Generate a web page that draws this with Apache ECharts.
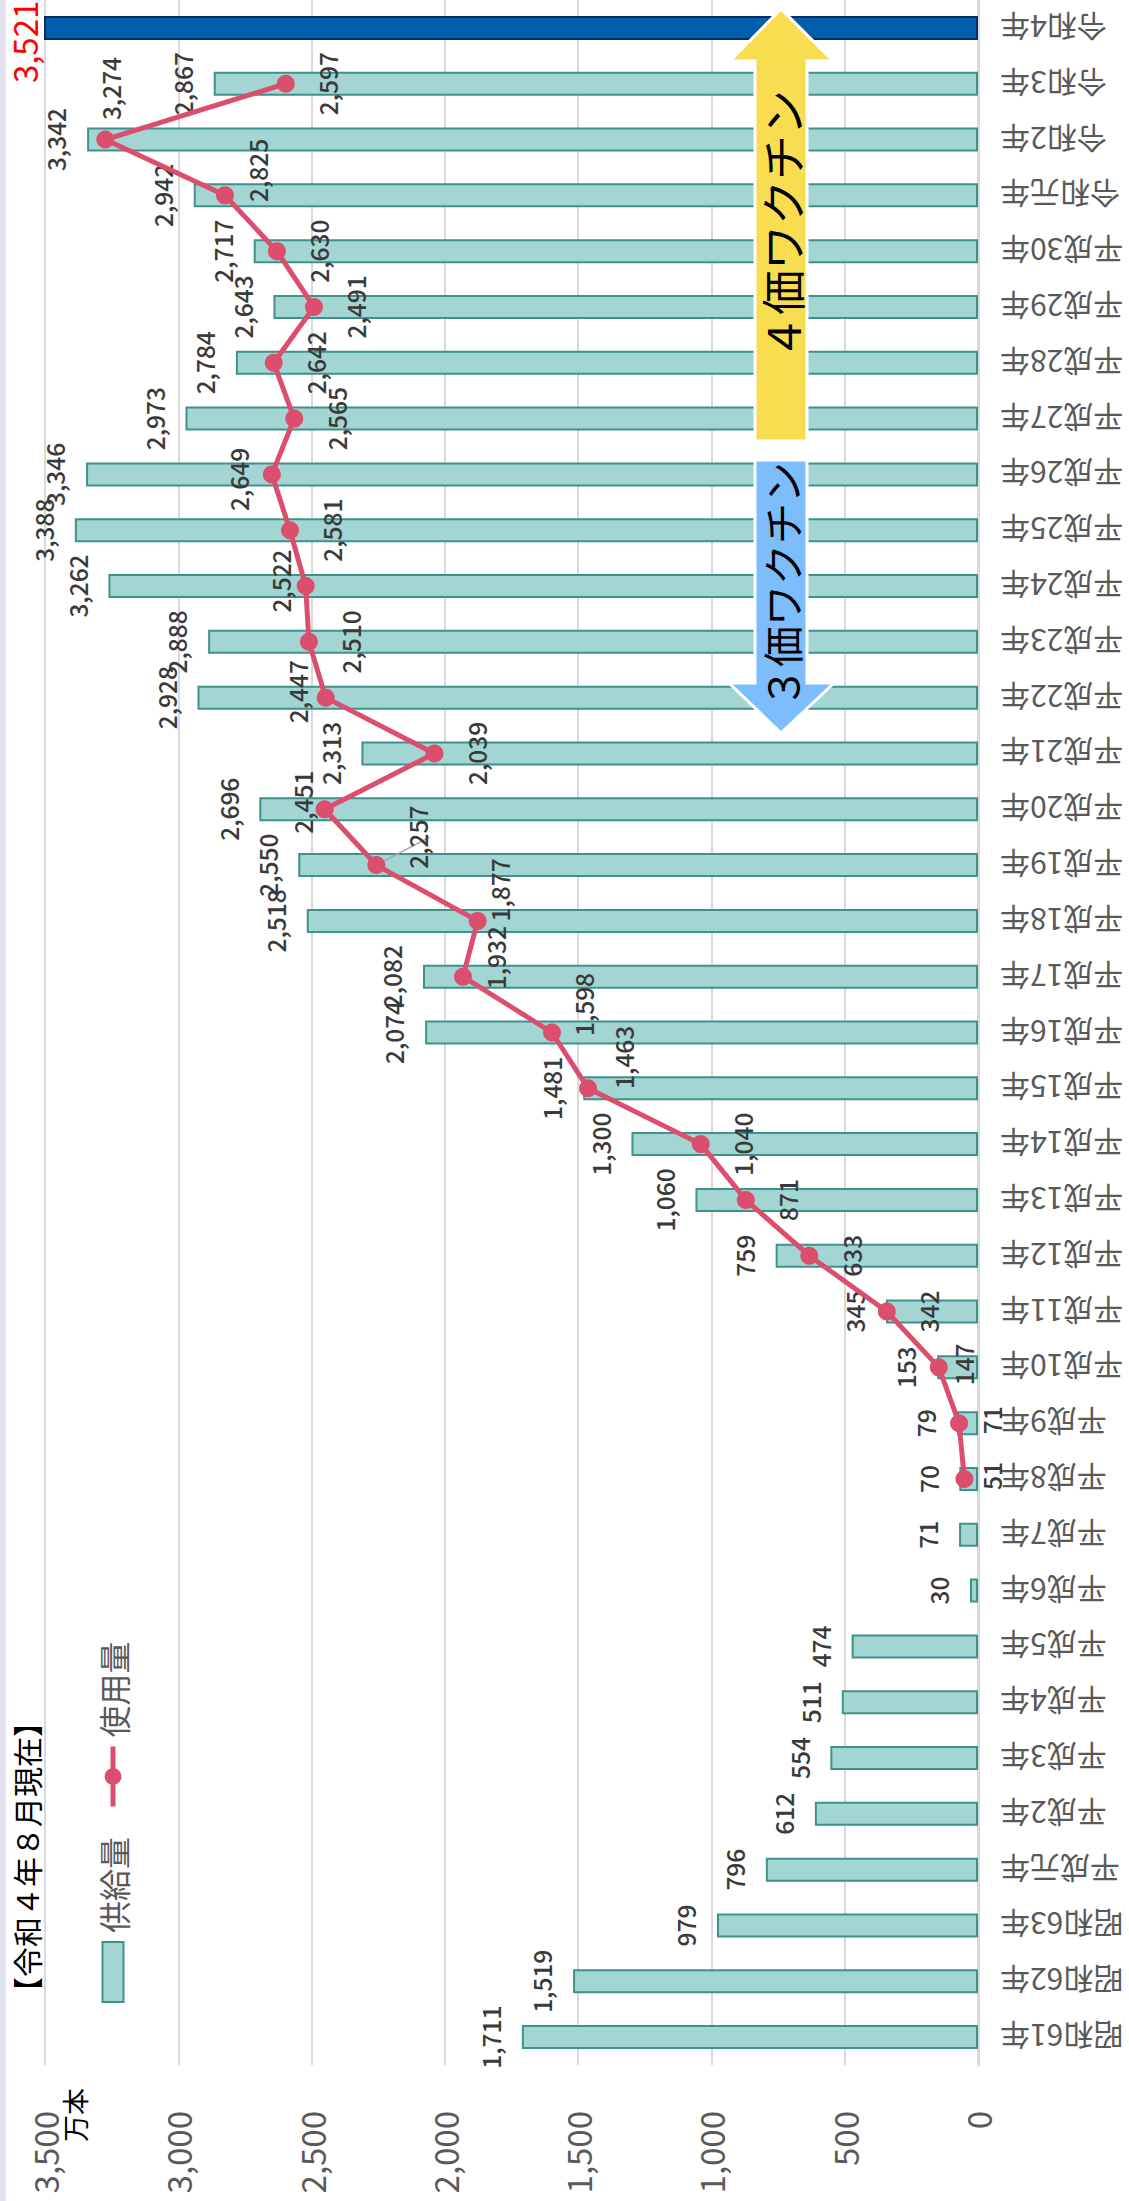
<!DOCTYPE html>
<html>
<head>
<meta charset="utf-8">
<script src="https://cdn.jsdelivr.net/npm/echarts@6/dist/echarts.min.js"></script>
<style>
html,body{margin:0;padding:0;background:#fff;overflow:hidden;width:1129px;height:2201px;}
#chart{position:absolute;left:0;top:0;width:2201px;height:1129px;transform-origin:0 0;transform:translate(0,2201px) rotate(-90deg);}
</style>
</head>
<body>
<div id="chart"></div>
<script>
// ---- data ----
const categories = ['昭和61年','昭和62年','昭和63年','平成元年','平成2年','平成3年','平成4年','平成5年','平成6年','平成7年','平成8年','平成9年','平成10年','平成11年','平成12年','平成13年','平成14年','平成15年','平成16年','平成17年','平成18年','平成19年','平成20年','平成21年','平成22年','平成23年','平成24年','平成25年','平成26年','平成27年','平成28年','平成29年','平成30年','令和元年','令和2年','令和3年','令和4年'];
const supply = [1711,1519,979,796,612,554,511,474,30,71,70,79,153,345,759,1060,1300,1481,2074,2082,2518,2550,2696,2313,2928,2888,3262,3388,3346,2973,2784,2643,2717,2942,3342,2867,3521];
const usage = [null,null,null,null,null,null,null,null,null,null,51,71,147,342,633,871,1040,1463,1598,1932,1877,2257,2451,2039,2447,2510,2522,2581,2649,2565,2642,2491,2630,2825,3274,2597,null];
const valueMin = 0, valueMax = 3500, valueStep = 500;
const highlightCategory = '令和4年';

// ---- label placement (style, not data) ----
const usageLabelOffsets = [null,null,null,null,null,null,null,null,null,null,
  [3,27],[3,32],[3,25],[0,42],[0,42],[0,42],[0,42],[31,35],[28,31],[19,33],[31,22],[28,41],[7,-22],[0,42],[6,-28],[0,42],[5,-25],[0,42],[-5,-33],[0,42],[0,42],[0,42],[0,42],[25,33],[51,5],[0,42],null];
const leaderLineCategory = '平成19年';

const FONT = '"Noto Sans CJK JP","Noto Sans",sans-serif';
const fmt = v => Number(v).toLocaleString('en-US');

const barData = supply.map((v, i) => categories[i] === highlightCategory ? {
  value: v,
  itemStyle: {color: '#005eac', borderColor: '#0b2c5c', borderWidth: 2},
  label: {color: '#ff0000', fontSize: 33, fontWeight: 'normal', distance: 4, offset: [-14, 0]}
} : v);

const lineData = usage.map((v, i) => v == null ? null : Object.assign({
  value: v,
  label: {offset: usageLabelOffsets[i]}
}, categories[i] === leaderLineCategory ? {labelLine: {show: true, lineStyle: {color: '#a6a6a6', width: 1.5}}} : {}));

const chart = echarts.init(document.getElementById('chart'), null, {renderer: 'svg', width: 2201, height: 1129});
chart.setOption({
  animation: false,
  backgroundColor: '#ffffff',
  textStyle: {fontFamily: FONT},
  title: {
    text: '【令和４年８月現在】',
    left: 194, top: 11, padding: 0,
    textStyle: {fontSize: 30, fontWeight: 'normal', color: '#000000', fontFamily: FONT}
  },
  legend: {
    left: 198, top: 97, padding: 0,
    itemWidth: 60, itemHeight: 21, itemGap: 28,
    textStyle: {fontSize: 32, color: '#595959', fontFamily: FONT, padding: [0, 0, 0, 4]},
    data: [
      {name: '供給量', icon: 'rect'},
      {name: '使用量', lineStyle: {width: 5, color: '#dc4e6d'}}
    ]
  },
  grid: {left: 136, right: 0, top: 45, bottom: 151, containLabel: false},
  xAxis: {
    type: 'category',
    data: categories,
    axisTick: {show: false},
    axisLine: {show: true, lineStyle: {color: '#d9d9d9', width: 3}},
    axisLabel: {interval: 0, rotate: 90, margin: 22, fontSize: 30, color: '#595959', fontFamily: FONT}
  },
  yAxis: {
    type: 'value',
    min: valueMin, max: valueMax, interval: valueStep,
    axisLine: {show: false},
    axisTick: {show: false},
    splitLine: {lineStyle: {color: '#d9d9d9', width: 2}},
    axisLabel: {margin: 46, fontSize: 33, color: '#595959', fontFamily: FONT, formatter: v => fmt(v)}
  },
  series: [
    {
      name: '供給量',
      type: 'bar',
      data: barData,
      barWidth: 24,
      itemStyle: {color: '#a3d5d3', borderColor: '#3f928b', borderWidth: 2},
      label: {show: true, position: 'top', distance: 19, fontSize: 24.5, fontWeight: 500, color: '#3a3a3a', fontFamily: FONT, formatter: p => fmt(p.value)},
      z: 2
    },
    {
      name: '使用量',
      type: 'line',
      data: lineData,
      symbol: 'circle',
      symbolSize: 18,
      showSymbol: true,
      connectNulls: false,
      lineStyle: {color: '#dc4e6d', width: 5},
      itemStyle: {color: '#dc4e6d'},
      label: {show: true, position: 'inside', fontSize: 24.5, fontWeight: 500, color: '#3a3a3a', fontFamily: FONT, formatter: p => fmt(p.value)},
      z: 5
    }
  ],
  graphic: [
    {type: 'rect', z: 100, shape: {x: 0, y: 0, width: 2201, height: 6}, style: {fill: '#e4e1ef'}},
    {type: 'text', z: 100, x: 59, y: 61, style: {text: '万本', fontSize: 27, fill: '#000000', fontFamily: FONT}},
    {type: 'polygon', z: 50,
      shape: {points: [[1760,755],[2140,755],[2140,730],[2192,781],[2140,833],[2140,807],[1760,807]]},
      style: {fill: '#f9dd50', stroke: '#ffffff', lineWidth: 3}},
    {type: 'polygon', z: 50,
      shape: {points: [[1741,755],[1518,755],[1518,729],[1468,781],[1518,834],[1518,807],[1741,807]]},
      style: {fill: '#7dbdfb', stroke: '#ffffff', lineWidth: 3}},
    {type: 'text', z: 60, x: 1976, y: 781,
      style: {text: '４価ワクチン', fontSize: 45, fill: '#000000', align: 'center', verticalAlign: 'middle', fontFamily: FONT}},
    {type: 'text', z: 60, x: 1616, y: 781,
      style: {text: '３価ワクチン', fontSize: 41, fill: '#000000', align: 'center', verticalAlign: 'middle', fontFamily: FONT}}
  ]
});
</script>
</body>
</html>
